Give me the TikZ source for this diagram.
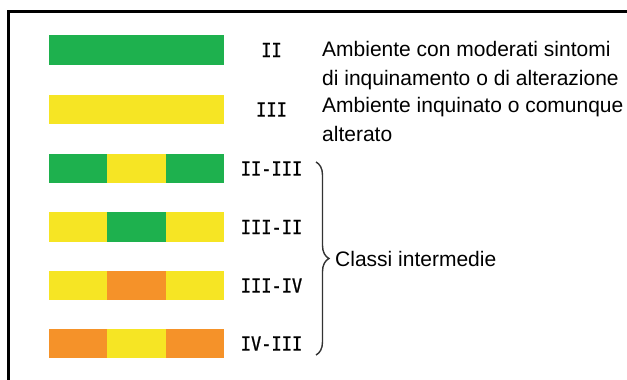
\documentclass[tikz,border=0pt]{standalone}
\usepackage{fontspec}
\setmainfont{Liberation Sans}
\newfontfamily\numfont[FakeBold=1.2]{DejaVu Sans Mono}
\usetikzlibrary{positioning,decorations.pathreplacing}

\definecolor{clgreen}{RGB}{30,177,78}
\definecolor{clyellow}{RGB}{246,229,36}
\definecolor{clorange}{RGB}{245,146,41}

\newcommand{\numlbl}[1]{\scalebox{1}[1.15]{#1}}

\tikzset{
    bar/.style={inner sep=0pt, outer sep=0pt, minimum height=29.5pt, minimum width=175pt},
    seg/.style={inner sep=0pt, outer sep=0pt, minimum height=29.5pt, minimum width=58.4pt},
    lbl/.style={inner sep=0pt, font=\numfont\fontsize{17}{20}\selectfont},
    desc/.style={inner sep=0pt, anchor=base west, align=left, font=\fontsize{21}{28.5}\selectfont}
}

\begin{document}
\begin{tikzpicture}[x=1pt, y=-1pt]
    \useasboundingbox (0,0) rectangle (627,380);
    \draw[line width=2.5pt] (8.5,380) |- (627,11.5);

    % classi pure
    \node[bar, fill=clgreen] (b1) at (136.5,50) {};
    \node[bar, fill=clyellow] (b2) at (136.5,109.5) {};

    % classi intermedie
    \node[seg, fill=clgreen] (b3a) at (78.2,168.5) {};
    \node[seg, fill=clyellow, right=0pt of b3a] (b3b) {};
    \node[seg, fill=clgreen, right=0pt of b3b] (b3c) {};

    \node[seg, fill=clyellow] (b4a) at (78.2,227) {};
    \node[seg, fill=clgreen, right=0pt of b4a] (b4b) {};
    \node[seg, fill=clyellow, right=0pt of b4b] (b4c) {};

    \node[seg, fill=clyellow] (b5a) at (78.2,285.5) {};
    \node[seg, fill=clorange, right=0pt of b5a] (b5b) {};
    \node[seg, fill=clyellow, right=0pt of b5b] (b5c) {};

    \node[seg, fill=clorange] (b6a) at (78.2,343.5) {};
    \node[seg, fill=clyellow, right=0pt of b6a] (b6b) {};
    \node[seg, fill=clorange, right=0pt of b6b] (b6c) {};

    \node[lbl] (l1) at (271.5,50) {\numlbl{II}};
    \node[lbl] (l2) at (271.5,109.5) {\numlbl{III}};
    \node[lbl] (l3) at (271.5,168.5) {\numlbl{II-III}};
    \node[lbl] (l4) at (271.5,227) {\numlbl{III-II}};
    \node[lbl] (l5) at (271.5,285.5) {\numlbl{III-IV}};
    \node[lbl] (l6) at (271.5,343.5) {\numlbl{IV-III}};

    % base = baseline of the last line
    \node[desc] (d1) at (322,85) {Ambiente con moderati sintomi \\ di inquinamento o di alterazione};
    \node[desc] (d2) at (322,141) {Ambiente inquinato o comunque \\ alterato};

    \coordinate (brtop) at (316,162);
    \coordinate (brbot) at (316,355);
    \draw[decorate, decoration={brace, amplitude=13pt}, line width=1.4pt, black!80]
        (brtop) -- (brbot);
    \node[inner sep=0pt, anchor=base west, font=\fontsize{21}{25}\selectfont] (ci) at (335,266) {Classi intermedie};
\end{tikzpicture}
\end{document}
